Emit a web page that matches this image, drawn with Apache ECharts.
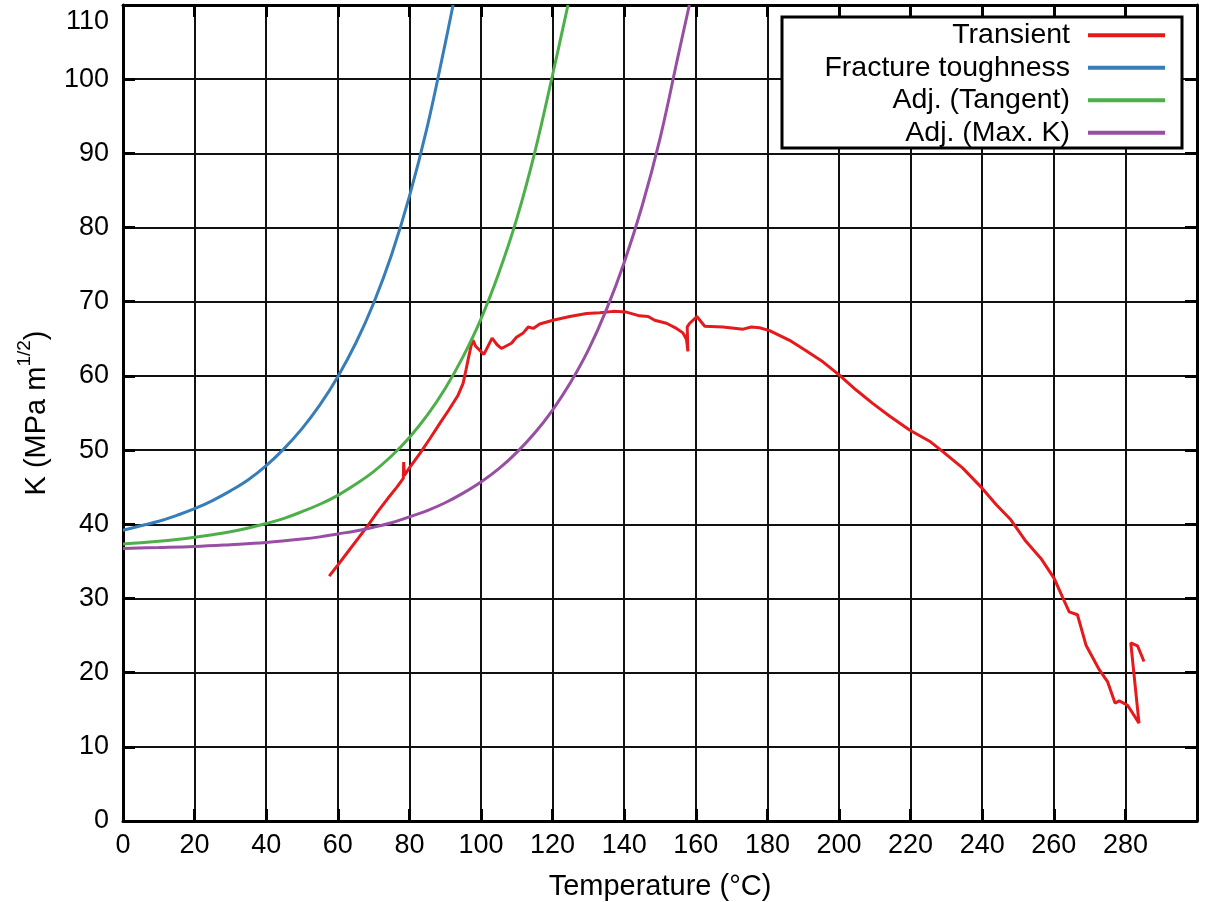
<!DOCTYPE html>
<html>
<head>
<meta charset="utf-8">
<script src="https://cdn.jsdelivr.net/npm/echarts@6/dist/echarts.min.js"></script>
<style>
  html, body { margin: 0; padding: 0; background: #ffffff; }
  #chart { width: 1206px; height: 902px; }
</style>
</head>
<body>
<div id="chart"></div>
<script>
// ---- Data ----
const seriesNames = ['Transient', 'Fracture toughness', 'Adj. (Tangent)', 'Adj. (Max. K)'];

const transientT = [57.6, 60, 63, 66, 68.5, 71, 74, 76.5, 78.3, 78.4, 78.6, 80, 83, 85.8, 88.5, 91, 93.6, 95.0, 95.8, 96.4, 97.2, 97.8, 98.5, 100.8, 103.1, 104.5, 105.7, 108.5, 109.9, 111.8, 113.2, 114.6, 116.4, 120.1, 124.8, 129.5, 133.2, 136.9, 140.6, 144.3, 146.7, 148.5, 151.8, 154.6, 156.4, 157.4, 157.8, 157.6, 158.3, 160.3, 162.5, 167.6, 173.2, 175.5, 177.8, 180.6, 186.2, 190.8, 195.5, 200.1, 204.8, 209.4, 214.1, 219.7, 225.3, 229.0, 234.5, 240.1, 244.0, 248.0, 252.2, 256.4, 260.1, 262.4, 264.3, 266.6, 269.0, 272.7, 275.0, 277.1, 278.3, 280.6, 283.8, 281.5, 283.4, 285.2];
const transientK = [33.0, 34.5, 36.4, 38.3, 39.9, 41.6, 43.5, 45.0, 46.2, 48.4, 46.6, 47.6, 49.6, 51.6, 53.6, 55.4, 57.4, 59.0, 60.8, 62.2, 64.0, 64.8, 64.0, 62.9, 65.1, 64.2, 63.7, 64.4, 65.2, 65.8, 66.6, 66.4, 67.0, 67.5, 68.0, 68.4, 68.5, 68.7, 68.6, 68.1, 68.0, 67.5, 67.1, 66.4, 65.8, 64.9, 63.3, 66.6, 67.1, 68.0, 66.7, 66.6, 66.3, 66.6, 66.5, 66.1, 64.8, 63.4, 61.9, 60.1, 58.1, 56.3, 54.6, 52.7, 51.2, 49.8, 47.6, 44.8, 42.6, 40.6, 37.7, 35.4, 32.7, 30.2, 28.2, 27.8, 23.7, 20.4, 18.8, 15.9, 16.2, 15.6, 13.2, 24.0, 23.6, 21.5];

const toughT = [0, 5, 10, 15, 20, 25, 30, 35, 40, 45, 50, 55, 60, 65, 70, 75, 80, 85, 90, 92.2];
const toughK = [39.2, 39.8, 40.4, 41.2, 42.1, 43.2, 44.5, 46.0, 47.9, 50.2, 52.9, 56.1, 59.9, 64.4, 69.8, 76.3, 84.2, 93.6, 104.8, 110];

const tangentT = [0, 5, 10, 15, 20, 25, 30, 35, 40, 45, 50, 55, 60, 65, 70, 75, 80, 85, 90, 95, 100, 105, 110, 115, 120, 124.3];
const tangentK = [37.35, 37.5, 37.7, 37.95, 38.25, 38.6, 39.0, 39.5, 40.1, 40.8, 41.7, 42.7, 43.9, 45.4, 47.1, 49.2, 51.7, 54.7, 58.3, 62.6, 67.7, 73.9, 81.2, 90.1, 100.6, 110];

const maxKT = [0, 10, 20, 30, 40, 50, 55, 60, 65, 70, 75, 80, 85, 90, 95, 100, 105, 110, 115, 120, 125, 130, 135, 140, 145, 150, 155, 158.2];
const maxKK = [36.75, 36.86, 37.0, 37.25, 37.55, 38.0, 38.3, 38.7, 39.1, 39.6, 40.2, 41.0, 41.85, 42.9, 44.2, 45.7, 47.5, 49.7, 52.3, 55.4, 59.1, 63.5, 68.9, 75.3, 82.9, 92.0, 103.0, 110];

const xTicks = { min: 0, max: 300, interval: 20 };
const yTicks = { min: 0, max: 110, interval: 10 };

const colors = ['#e41a1c', '#377eb8', '#4daf4a', '#984ea3'];

function pairs(xs, ys) { return xs.map((x, i) => [x, ys[i]]); }

// ---- Chart ----
const FONT = 'Liberation Sans, Arial, sans-serif';
const chart = echarts.init(document.getElementById('chart'), null, { renderer: 'canvas' });

const axisLineStyle = { color: '#000', width: 3 };
const tickStyle = { show: true, inside: true, length: 12, lineStyle: { color: '#000', width: 3 } };

const option = {
  backgroundColor: '#ffffff',
  animation: false,
  color: colors,
  grid: { left: 123, right: 9, top: 5, bottom: 81, containLabel: false, outerBoundsMode: 'none' },
  xAxis: [
    {
      type: 'value', position: 'bottom',
      min: xTicks.min, max: xTicks.max, interval: xTicks.interval,
      name: 'Temperature (°C)', nameLocation: 'middle', nameGap: 51,
      nameTextStyle: { fontFamily: FONT, fontSize: 29, color: '#000' },
      axisLine: { show: true, onZero: false, lineStyle: axisLineStyle },
      axisTick: tickStyle,
      axisLabel: { show: true, margin: 11, fontFamily: FONT, fontSize: 27, color: '#000', showMaxLabel: false },
      splitLine: { show: true, lineStyle: { color: '#111', width: 2 } }
    },
    {
      type: 'value', position: 'top',
      min: xTicks.min, max: xTicks.max, interval: xTicks.interval,
      axisLine: { show: true, onZero: false, lineStyle: axisLineStyle },
      axisTick: tickStyle,
      axisLabel: { show: false },
      splitLine: { show: false }
    }
  ],
  yAxis: [
    {
      type: 'value', position: 'left',
      min: yTicks.min, max: yTicks.max, interval: yTicks.interval,
      name: '{n|K (MPa m}{s|1/2}{n|)}', nameLocation: 'middle', nameGap: 72,
      nameTextStyle: {
        fontFamily: FONT, color: '#000',
        rich: {
          n: { fontFamily: FONT, fontSize: 29, color: '#000', lineHeight: 36, verticalAlign: 'bottom' },
          s: { fontFamily: FONT, fontSize: 19, color: '#000', lineHeight: 36, verticalAlign: 'top', padding: [0, 0, 12, 0] }
        }
      },
      axisLine: { show: true, onZero: false, lineStyle: axisLineStyle },
      axisTick: tickStyle,
      axisLabel: {
        show: true, margin: 14, fontFamily: FONT, fontSize: 27, color: '#000',
        formatter: function (v) { return v === yTicks.max ? '{top|' + v + '}' : String(v); },
        rich: { top: { fontFamily: FONT, fontSize: 27, color: '#000', padding: [34, 0, 0, 0] } }
      },
      splitLine: { show: true, lineStyle: { color: '#111', width: 2 } }
    },
    {
      type: 'value', position: 'right',
      min: yTicks.min, max: yTicks.max, interval: yTicks.interval,
      axisLine: { show: true, onZero: false, lineStyle: axisLineStyle },
      axisTick: tickStyle,
      axisLabel: { show: false },
      splitLine: { show: false }
    }
  ],
  graphic: [
    {
      type: 'rect', z: 3,
      shape: { x: 782, y: 17, width: 400, height: 131 },
      style: { fill: '#ffffff', stroke: '#000', lineWidth: 3 }
    }
  ],
  legend: {
    orient: 'vertical', align: 'right',
    right: 41, top: 19, padding: 0, itemGap: 0,
    icon: 'rect', itemWidth: 77, itemHeight: 4,
    data: seriesNames,
    textStyle: { fontFamily: FONT, fontSize: 28.5, color: '#000', lineHeight: 32.5, padding: [0, 13, 0, 0] },
    z: 5
  },
  series: [
    {
      name: seriesNames[0], type: 'line', data: pairs(transientT, transientK),
      showSymbol: false, symbol: 'none', lineStyle: { width: 3, color: colors[0] }, z: 2
    },
    {
      name: seriesNames[1], type: 'line', data: pairs(toughT, toughK),
      showSymbol: false, symbol: 'none', smooth: 0.4,
      lineStyle: { width: 3, color: colors[1] }, z: 2
    },
    {
      name: seriesNames[2], type: 'line', data: pairs(tangentT, tangentK),
      showSymbol: false, symbol: 'none', smooth: 0.4,
      lineStyle: { width: 3, color: colors[2] }, z: 2
    },
    {
      name: seriesNames[3], type: 'line', data: pairs(maxKT, maxKK),
      showSymbol: false, symbol: 'none', smooth: 0.4,
      lineStyle: { width: 3, color: colors[3] }, z: 2
    }
  ]
};
chart.setOption(option);
</script>
</body>
</html>
